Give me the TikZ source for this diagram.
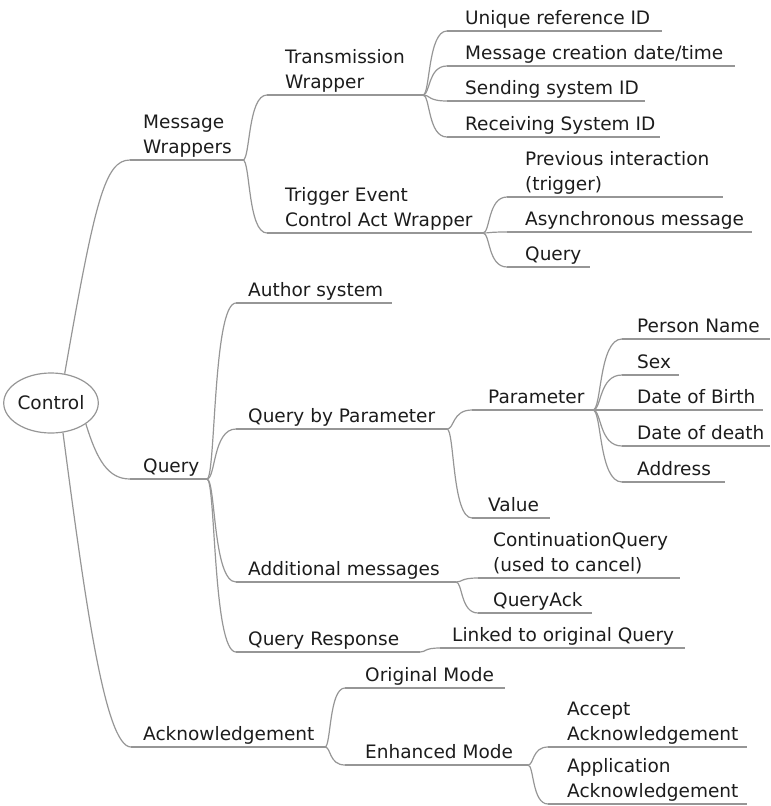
\documentclass[tikz,border=0pt]{standalone}
\usepackage{fontspec}
\setmainfont{DejaVu Sans}
\usetikzlibrary{calc,shapes.geometric}
\definecolor{linegray}{RGB}{150,150,150}
\definecolor{txt}{RGB}{28,28,28}
\newcommand\twol[2]{\vbox{\baselineskip=25pt\hbox{#1}\hbox{#2}}}
\newcommand\mtopic[6]{%
  \coordinate (#1-l) at (#2,#4);
  \coordinate (#1-r) at (#3,#4);
  \node[topic] (#1) at (#5,#4-6.5) {#6};
  \draw[uline] (#1-l) -- (#1-r);
}
\newcommand\mbranch[2]{%
  \draw[conn] let \p1=(#1-r), \p2=(#2-l) in (\p1) .. controls ({\x1+0.3*(\x2-\x1)},\y1) and ({\x1+0.2*(\x2-\x1)},\y2) .. (\p2);
}
\tikzset{
  uline/.style={draw=linegray, line width=1.2pt},
  conn/.style={draw=linegray, line width=1.2pt},
  topic/.style={anchor=base west, inner sep=0pt, text=txt, font=\fontsize{18.5}{25}\selectfont},
  root/.style={draw=linegray, line width=1.2pt, ellipse, inner sep=0pt, minimum width=93pt, minimum height=60pt, text=txt, font=\fontsize{18.5}{25}\selectfont}
}
\begin{document}
\begin{tikzpicture}[x=1pt,y=-1pt]
\useasboundingbox (0,0) rectangle (771,806);
\node[root] (ctl) at (51,403) {Control};

% level 1
\mtopic{mw}{130}{243}{160}{143}{\twol{Message}{Wrappers}}
\mtopic{q}{130}{207}{479}{143}{Query}
\mtopic{ack}{131}{325}{747}{143}{Acknowledgement}

% level 2 under Message Wrappers
\mtopic{tw}{267}{423}{95}{285}{\twol{Transmission}{Wrapper}}
\mtopic{te}{267}{483}{233}{285}{\twol{Trigger Event}{Control Act Wrapper}}

% transmission wrapper children
\mtopic{ua}{447}{662}{31}{465}{Unique reference ID}
\mtopic{ub}{447}{735}{66}{465}{Message creation date/time}
\mtopic{uc}{447}{645}{101}{465}{Sending system ID}
\mtopic{ud}{447}{660}{137}{465}{Receiving System ID}

% trigger event children
\mtopic{pa}{507}{723}{197}{525}{\twol{Previous interaction}{(trigger)}}
\mtopic{pb}{507}{752}{232}{525}{Asynchronous message}
\mtopic{pc}{507}{590}{267}{525}{Query}

% query children
\mtopic{as}{236}{392}{303}{248}{Author system}
\mtopic{qp}{236}{447}{429}{248}{Query by Parameter}
\mtopic{am}{236}{456}{582}{248}{Additional messages}
\mtopic{qr}{236}{420}{652}{248}{Query Response}

% query by parameter children
\mtopic{par}{472}{593}{410}{488}{Parameter}
\mtopic{val}{472}{550}{518}{488}{Value}

% parameter children
\mtopic{pn}{622}{770}{339}{637}{Person Name}
\mtopic{sx}{622}{679}{375}{637}{Sex}
\mtopic{db}{622}{763}{410}{637}{Date of Birth}
\mtopic{dd}{622}{770}{446}{637}{Date of death}
\mtopic{ad}{622}{725}{482}{637}{Address}

% additional messages children
\mtopic{cq}{478}{680}{578}{493}{\twol{ContinuationQuery}{(used to cancel)}}
\mtopic{qa}{478}{592}{613}{493}{QueryAck}

% query response child
\mtopic{lo}{440}{685}{648}{452}{Linked to original Query}

% acknowledgement children
\mtopic{om}{345}{505}{688}{365}{Original Mode}
\mtopic{em}{345}{528}{765}{365}{Enhanced Mode}

% enhanced mode children
\mtopic{aa}{548}{747}{747}{567}{\twol{Accept}{Acknowledgement}}
\mtopic{ap}{548}{747}{804}{567}{\twol{Application}{Acknowledgement}}

% connectors from root
\draw[conn] (ctl.65) .. controls (95,200) and (105,160) .. (mw-l);
\draw[conn] (ctl.-31) .. controls (97,460) and (108,479) .. (q-l);
\draw[conn] (ctl.-68) .. controls (85,600) and (105,747) .. (ack-l);

% other connectors
\mbranch{mw}{tw}
\mbranch{mw}{te}
\mbranch{tw}{ua}
\mbranch{tw}{ub}
\mbranch{tw}{uc}
\mbranch{tw}{ud}
\mbranch{te}{pa}
\mbranch{te}{pb}
\mbranch{te}{pc}
\mbranch{q}{as}
\mbranch{q}{qp}
\mbranch{q}{am}
\mbranch{q}{qr}
\mbranch{qp}{par}
\mbranch{qp}{val}
\mbranch{par}{pn}
\mbranch{par}{sx}
\mbranch{par}{db}
\mbranch{par}{dd}
\mbranch{par}{ad}
\mbranch{am}{cq}
\mbranch{am}{qa}
\mbranch{qr}{lo}
\mbranch{ack}{om}
\mbranch{ack}{em}
\mbranch{em}{aa}
\mbranch{em}{ap}
\end{tikzpicture}
\end{document}
